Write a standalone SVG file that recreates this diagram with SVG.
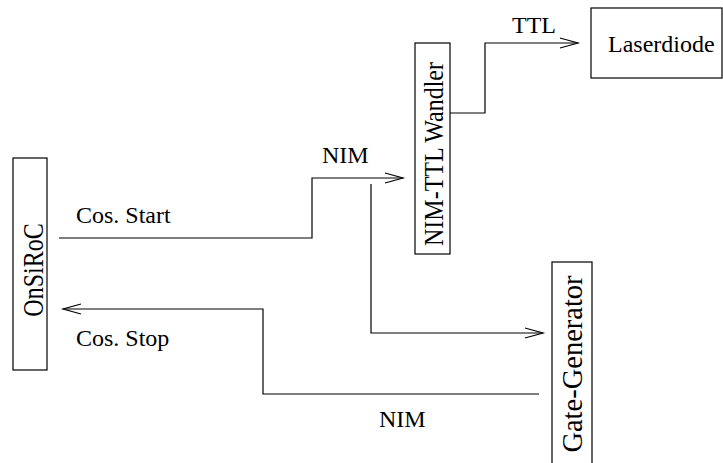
<svg xmlns="http://www.w3.org/2000/svg" width="723" height="463" viewBox="0 0 723 463">
<style>
.box{fill:none;stroke:#000;stroke-width:1.2}
.ln{fill:none;stroke:#000;stroke-width:1.2}
.t{font-family:"Liberation Serif","Times New Roman",serif;font-size:24px;fill:#000}
.gg{font-size:28.5px}
</style>
<defs>
<marker id="ah" markerUnits="userSpaceOnUse" markerWidth="24" markerHeight="14" viewBox="-20 -7 24 14" refX="0" refY="0" orient="auto">
<path d="M-18,-5 L0,0 L-18,5" fill="none" stroke="#000" stroke-width="1.2"/>
</marker>
</defs>
<rect width="723" height="463" fill="#fff"/>
<g id="connectors">
<polyline class="ln" points="59,238 312,238 312,178 403,178" marker-end="url(#ah)"/>
<polyline class="ln" points="371,184 371,333 543,333" marker-end="url(#ah)"/>
<polyline class="ln" points="450,113 485,113 485,43 578,43" marker-end="url(#ah)"/>
<polyline class="ln" points="539,394 263,394 263,309 63,309" marker-end="url(#ah)"/>
<text class="t" x="76" y="223">Cos. Start</text>
<text class="t" x="76" y="346">Cos. Stop</text>
<text class="t" x="322" y="163">NIM</text>
<text class="t" x="512" y="33">TTL</text>
<text class="t" x="379" y="427">NIM</text>
</g>
<g id="onsiroc">
<rect class="box" x="13" y="158" width="34" height="212"/>
<text class="t" transform="translate(43,270) rotate(-90) scale(1,1.2)" text-anchor="middle">OnSiRoC</text>
</g>
<g id="wandler">
<rect class="box" x="415" y="43" width="35" height="211"/>
<text class="t" transform="translate(443,154) rotate(-90) scale(1,1.1)" text-anchor="middle">NIM-TTL Wandler</text>
</g>
<g id="laserdiode">
<rect class="box" x="591" y="8" width="131" height="70"/>
<text class="t" x="608" y="52">Laserdiode</text>
</g>
<g id="gategen">
<rect class="box" x="552" y="262" width="40" height="210"/>
<text class="t gg" transform="translate(582,364) rotate(-90)" text-anchor="middle">Gate-Generator</text>
</g>
</svg>
